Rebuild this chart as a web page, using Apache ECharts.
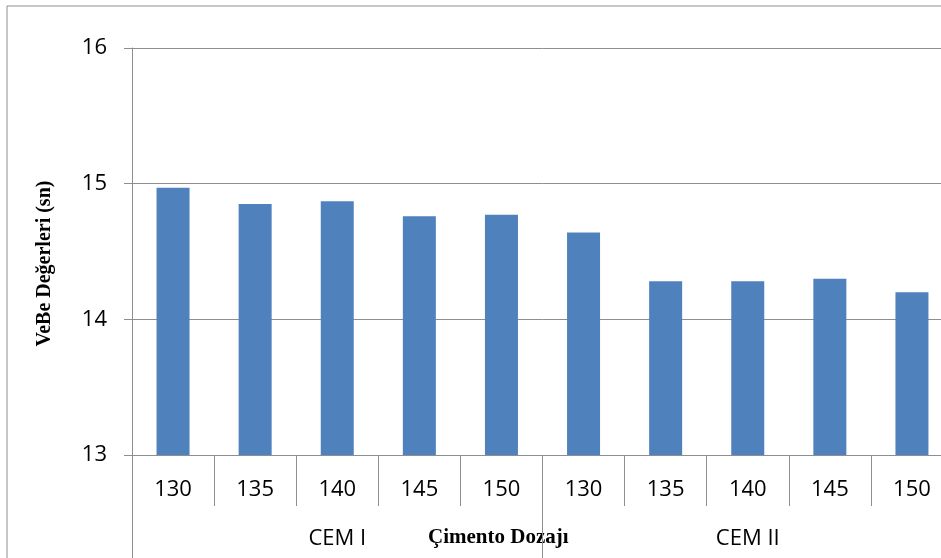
<!DOCTYPE html>
<html>
<head>
<meta charset="utf-8">
<script src="https://cdn.jsdelivr.net/npm/echarts@6/dist/echarts.min.js"></script>
<style>
  html, body { margin: 0; padding: 0; background: #fff; overflow: hidden; }
  #chart { width: 960px; height: 558px; }
</style>
</head>
<body>
<div id="chart"></div>
<script>
  // dozaj kategorileri (alt seviye) ve çimento grupları (üst seviye)
  var dosages = ['130', '135', '140', '145', '150', '130', '135', '140', '145', '150'];
  var cementGroups = ['CEM I', 'CEM II'];
  var vebeValues = [14.97, 14.85, 14.87, 14.76, 14.77, 14.64, 14.28, 14.28, 14.30, 14.20];
  var yTicks = [13, 14, 15, 16];

  var gray = '#8e8e8e';
  var chart = echarts.init(document.getElementById('chart'));

  // grafik alanı 941px pencereden taşıyor (orijinalde sağ kenar kesik)
  var option = {
    animation: false,
    grid: { left: 132, right: 7, top: 48, bottom: 103 },
    graphic: [
      {
        type: 'rect',
        shape: { x: 7, y: 6, width: 1200, height: 1200 },
        style: { fill: 'none', stroke: gray, lineWidth: 1 },
        silent: true
      },
      {
        type: 'text',
        left: 428, top: 527,
        style: {
          text: 'Çimento Dozajı',
          fontFamily: 'Liberation Serif',
          fontWeight: 'bold',
          fontSize: 21,
          fill: '#000'
        }
      }
    ],
    xAxis: [
      {
        type: 'category',
        data: dosages,
        position: 'bottom',
        axisLine: { show: true, lineStyle: { color: gray, width: 1 } },
        axisTick: { show: true, interval: 0, length: 51, lineStyle: { color: gray } },
        axisLabel: {
          interval: 0, margin: 24,
          fontFamily: 'Open Sans', fontSize: 22, color: '#000'
        }
      },
      {
        type: 'category',
        data: cementGroups,
        position: 'bottom',
        axisLine: { show: false },
        axisTick: { show: true, interval: 0, length: 103, lineStyle: { color: gray } },
        axisLabel: {
          interval: 0, margin: 73,
          fontFamily: 'Open Sans', fontSize: 22, color: '#000'
        }
      }
    ],
    yAxis: {
      type: 'value',
      min: yTicks[0],
      max: yTicks[yTicks.length - 1],
      interval: 1,
      name: 'VeBe Değerleri (sn)',
      nameLocation: 'middle',
      nameGap: 77,
      nameRotate: 90,
      nameTextStyle: {
        fontFamily: 'Liberation Serif', fontWeight: 'bold', fontSize: 20, color: '#000',
        padding: [0, 24, 0, 0]
      },
      axisLine: { show: true, lineStyle: { color: gray } },
      axisTick: { show: true, length: 8, lineStyle: { color: gray } },
      axisLabel: { margin: 25, fontFamily: 'Open Sans', fontSize: 22, color: '#000' },
      splitLine: { show: true, lineStyle: { color: gray, width: 1 } }
    },
    series: [
      {
        type: 'bar',
        xAxisIndex: 0,
        data: vebeValues,
        barWidth: 33,
        itemStyle: { color: '#4f81bd' }
      }
    ]
  };

  chart.setOption(option);
</script>
</body>
</html>
